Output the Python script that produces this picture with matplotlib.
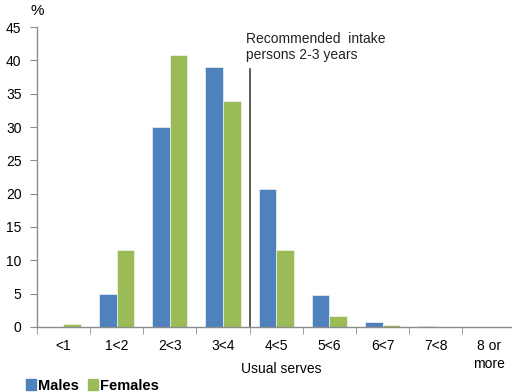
import numpy as np
import matplotlib.pyplot as plt
from matplotlib.patches import Patch

plt.rcParams['font.family'] = ['Liberation Sans', 'DejaVu Sans']

categories = ['<1', '1<2', '2<3', '3<4', '4<5', '5<6', '6<7', '7<8', '8 or\nmore']
males = [0.0, 5.0, 30.0, 39.0, 20.7, 4.8, 0.7, 0.2, 0.0]
females = [0.4, 11.6, 40.8, 33.9, 11.6, 1.7, 0.25, 0.05, 0.0]
rec_line_x = 3.5
rec_line_top = 38.7

blue = '#4F81BD'
green = '#9BBB59'
grey = '#8C8C8C'

fig = plt.figure(figsize=(5.12, 3.92), dpi=100)
ax = fig.add_axes([0.072, 0.166, 0.935, 0.765])

x = np.arange(len(categories))
w = 0.33
ax.bar(x - w / 2, males, w, color=blue, edgecolor='white', linewidth=0.4)
ax.bar(x + w / 2, females, w, color=green, edgecolor='white', linewidth=0.4)

ax.plot([rec_line_x, rec_line_x], [0, rec_line_top], color='#404040', lw=1.2)
ax.text(rec_line_x - 0.07, 39.8, 'Recommended  intake\npersons 2-3 years',
        fontsize=10, va='bottom', ha='left', linespacing=1.15, color='#222222')

ax.set_xlim(-0.5, len(categories) - 0.5)
ax.set_ylim(0, 45)
ax.set_yticks(np.arange(0, 46, 5))
ax.set_xticks(x)
ax.set_xticklabels(categories, fontsize=10, linespacing=1.3)
ax.set_xticks(np.arange(-0.5, len(categories), 1), minor=True)
ax.tick_params(axis='x', which='major', length=0, pad=9)
ax.tick_params(axis='x', which='minor', length=5, color=grey, direction='out')
ax.tick_params(axis='y', length=5, color=grey, labelsize=10, pad=6)

for s in ['top', 'right']:
    ax.spines[s].set_visible(False)
for s in ['left', 'bottom']:
    ax.spines[s].set_color(grey)
    ax.spines[s].set_linewidth(1.0)

ax.set_xlabel('Usual serves', fontsize=10)
ax.xaxis.set_label_coords(0.51, -0.14)
ax.xaxis.label.set_va('center')
fig.text(0.06, 0.955, '%', fontsize=11, ha='left', va='bottom')

handles = [Patch(color=blue, label='Males'), Patch(color=green, label='Females')]
fig.legend(handles=handles, loc='lower left', bbox_to_anchor=(0.025, -0.035), ncol=2,
           frameon=False, handlelength=0.7, handleheight=0.7, handletextpad=0.15,
           columnspacing=0.6, prop={'weight': 'bold', 'size': 10.5})

fig.savefig('out.png', dpi=100)
